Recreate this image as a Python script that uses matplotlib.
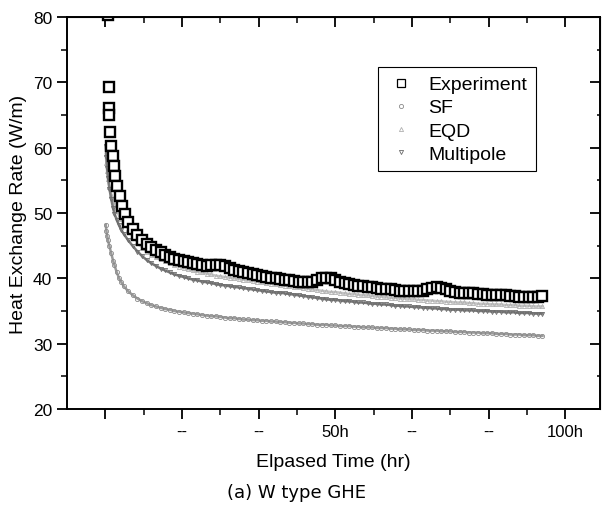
import matplotlib
matplotlib.use("Agg")
import matplotlib.pyplot as plt
from matplotlib.ticker import FixedLocator, MultipleLocator

plt.rcParams["font.family"] = ["Liberation Sans", "DejaVu Sans"]

# elapsed time (hr)
exp_hours = [0.57, 0.7, 0.8, 0.9, 1.1, 1.3, 1.6, 1.9, 2.2, 2.6, 3.1, 3.7, 4.3] + list(range(5, 96))
model_hours = [0.1, 0.25, 0.4, 0.6, 0.9, 1.3, 1.7, 2, 2.5, 3, 3.5, 4] + list(range(5, 96))

# heat exchange rate (W/m)
experiment = [80.3, 69.2, 66.0, 65.0, 62.4, 60.3, 58.7, 57.2, 55.6, 54.1, 52.6, 51.1, 49.8,
              48.6, 47.5, 46.7, 45.9, 45.3, 44.8, 44.4, 44.0, 43.6, 43.3,
              43.0, 42.8, 42.6, 42.5, 42.3, 42.2, 42.0, 41.9, 42.0, 42.1,
              42.1, 41.9, 41.6, 41.3, 41.1, 41.0, 40.8, 40.6, 40.5, 40.4,
              40.2, 40.1, 40.0, 39.9, 39.8, 39.7, 39.6, 39.5, 39.4, 39.4,
              39.5, 39.8, 40.0, 40.1, 40.0, 39.8, 39.5, 39.3, 39.1, 39.0,
              38.9, 38.8, 38.7, 38.6, 38.5, 38.4, 38.3, 38.3, 38.2, 38.1,
              38.1, 38.0, 38.0, 38.0, 38.1, 38.3, 38.5, 38.6, 38.5, 38.3,
              38.0, 37.9, 37.8, 37.8, 37.7, 37.7, 37.6, 37.6, 37.5, 37.5,
              37.4, 37.4, 37.4, 37.3, 37.3, 37.2, 37.2, 37.2, 37.1, 37.2,
              37.3]

sf = [48.2, 47.2, 46.5, 45.8, 44.9, 43.8, 42.7, 42.0, 40.9, 40.0, 39.4, 38.8,
      38.0, 37.4, 36.9, 36.5, 36.2, 35.9, 35.7, 35.5, 35.3, 35.2,
      35.0, 34.9, 34.8, 34.7, 34.6, 34.5, 34.4, 34.3, 34.2, 34.2,
      34.1, 34.0, 33.9, 33.9, 33.8, 33.7, 33.7, 33.6, 33.6, 33.5,
      33.5, 33.4, 33.4, 33.3, 33.3, 33.2, 33.2, 33.1, 33.1, 33.0,
      33.0, 32.9, 32.9, 32.9, 32.8, 32.8, 32.7, 32.7, 32.7, 32.6,
      32.6, 32.5, 32.5, 32.5, 32.4, 32.4, 32.4, 32.3, 32.3, 32.2,
      32.2, 32.2, 32.1, 32.1, 32.1, 32.0, 32.0, 32.0, 31.9, 31.9,
      31.9, 31.8, 31.8, 31.8, 31.7, 31.7, 31.7, 31.6, 31.6, 31.6,
      31.5, 31.5, 31.5, 31.4, 31.4, 31.4, 31.3, 31.3, 31.3, 31.2,
      31.2]

eqd = [59.0, 57.6, 56.4, 55.2, 54.0, 52.8, 51.8, 51.2, 50.3, 49.6, 49.0, 48.5,
       47.6, 46.4, 45.5, 44.7, 44.1, 43.6, 43.2, 42.9, 42.6, 42.3,
       42.0, 41.8, 41.6, 41.4, 41.2, 41.0, 40.9, 40.7, 40.6, 40.4,
       40.3, 40.2, 40.1, 40.0, 39.9, 39.8, 39.7, 39.6, 39.5, 39.4,
       39.3, 39.2, 39.1, 39.0, 38.9, 38.8, 38.7, 38.6, 38.5, 38.4,
       38.3, 38.2, 38.1, 38.0, 37.9, 37.9, 37.8, 37.7, 37.6, 37.6,
       37.5, 37.4, 37.4, 37.3, 37.2, 37.2, 37.1, 37.0, 37.0, 36.9,
       36.9, 36.8, 36.8, 36.7, 36.7, 36.6, 36.6, 36.5, 36.5, 36.4,
       36.4, 36.3, 36.3, 36.3, 36.2, 36.2, 36.1, 36.1, 36.1, 36.0,
       36.0, 36.0, 35.9, 35.9, 35.9, 35.8, 35.8, 35.8, 35.7, 35.7,
       35.7]

multipole = [60.3, 58.5, 56.8, 55.3, 53.7, 52.1, 50.7, 49.9, 48.9, 48.1, 47.4, 46.8,
             45.8, 44.9, 44.1, 43.4, 42.8, 42.3, 41.9, 41.5, 41.2, 40.9,
             40.6, 40.4, 40.2, 40.0, 39.8, 39.7, 39.5, 39.4, 39.3, 39.1,
             39.0, 38.9, 38.8, 38.7, 38.6, 38.5, 38.4, 38.3, 38.2, 38.1,
             38.0, 37.9, 37.8, 37.8, 37.7, 37.6, 37.5, 37.4, 37.3, 37.2,
             37.1, 37.0, 36.9, 36.8, 36.7, 36.7, 36.6, 36.5, 36.5, 36.4,
             36.3, 36.3, 36.2, 36.1, 36.1, 36.0, 36.0, 35.9, 35.8, 35.8,
             35.7, 35.7, 35.6, 35.6, 35.5, 35.5, 35.4, 35.4, 35.3, 35.3,
             35.2, 35.2, 35.2, 35.1, 35.1, 35.1, 35.0, 35.0, 35.0, 34.9,
             34.9, 34.9, 34.8, 34.8, 34.8, 34.7, 34.7, 34.7, 34.6, 34.6,
             34.6]

x_major = [0, 16.667, 33.333, 50, 66.667, 83.333, 100]
x_labels = ["", "--", "--", "50h", "--", "--", "100h"]

fig = plt.figure(figsize=(6.03, 5.10), dpi=100)
ax = fig.add_axes([0.111, 0.196, 0.884, 0.769])

ax.plot(model_hours, sf, color="#9a9a9a", lw=1.8, marker="o", ms=3, mfc="none",
        mec="#8a8a8a", mew=0.6, label="SF")
ax.plot(model_hours, eqd, color="#c4c4c4", lw=1.8, marker="^", ms=3, mfc="none",
        mec="#b0b0b0", mew=0.6, label="EQD")
ax.plot(model_hours, multipole, color="#7a7a7a", lw=1.8, marker="v", ms=3, mfc="none",
        mec="#6a6a6a", mew=0.6, label="Multipole")
ax.plot(exp_hours, experiment, ls="none", marker="s", ms=7, mfc="white",
        mec="black", mew=1.7, label="Experiment", clip_on=True)

ax.set_xlim(-8.333, 107.5)
ax.set_ylim(20, 80)

ax.xaxis.set_major_locator(FixedLocator(x_major))
ax.set_xticklabels(x_labels)
ax.xaxis.set_minor_locator(MultipleLocator(8.3333))
ax.yaxis.set_major_locator(MultipleLocator(10))
ax.yaxis.set_minor_locator(MultipleLocator(5))
ax.tick_params(which="major", direction="out", length=7, width=1.3, labelsize=12)
ax.tick_params(axis="y", labelsize=12.5)
ax.tick_params(which="minor", direction="out", length=4, width=1.1)
for s in ax.spines.values():
    s.set_linewidth(1.4)

top = ax.secondary_xaxis("top")
top.xaxis.set_major_locator(FixedLocator(x_major))
top.xaxis.set_minor_locator(MultipleLocator(8.3333))
top.tick_params(which="major", direction="in", length=7, width=1.3, labeltop=False)
top.tick_params(which="minor", direction="in", length=4, width=1.1)
right = ax.secondary_yaxis("right")
right.yaxis.set_major_locator(MultipleLocator(10))
right.yaxis.set_minor_locator(MultipleLocator(5))
right.tick_params(which="major", direction="in", length=7, width=1.3, labelright=False)
right.tick_params(which="minor", direction="in", length=2, width=1.1)

ax.set_xlabel("Elpased Time (hr)", fontsize=14, labelpad=10)
ax.set_ylabel("Heat Exchange Rate (W/m)", fontsize=14, labelpad=4)

handles, labels = ax.get_legend_handles_labels()
order = [3, 0, 1, 2]
leg = ax.legend([handles[i] for i in order], [labels[i] for i in order],
                loc="upper left", bbox_to_anchor=(0.583, 0.872), borderaxespad=0,
                fontsize=14, frameon=True, fancybox=False, edgecolor="black",
                framealpha=1, handlelength=1.5, handletextpad=0.65,
                labelspacing=0.28, borderpad=0.45, numpoints=1)
leg.get_frame().set_linewidth(0.8)
for h in leg.legend_handles:
    h.set_linestyle("none")
leg.legend_handles[0].set_markersize(6)
leg.legend_handles[0].set_markeredgewidth(0.9)

fig.text(0.492, 0.033, "(a) W type GHE", fontsize=13, ha="center", va="center",
         family=["DejaVu Sans"])

fig.savefig("out.png", dpi=100)
